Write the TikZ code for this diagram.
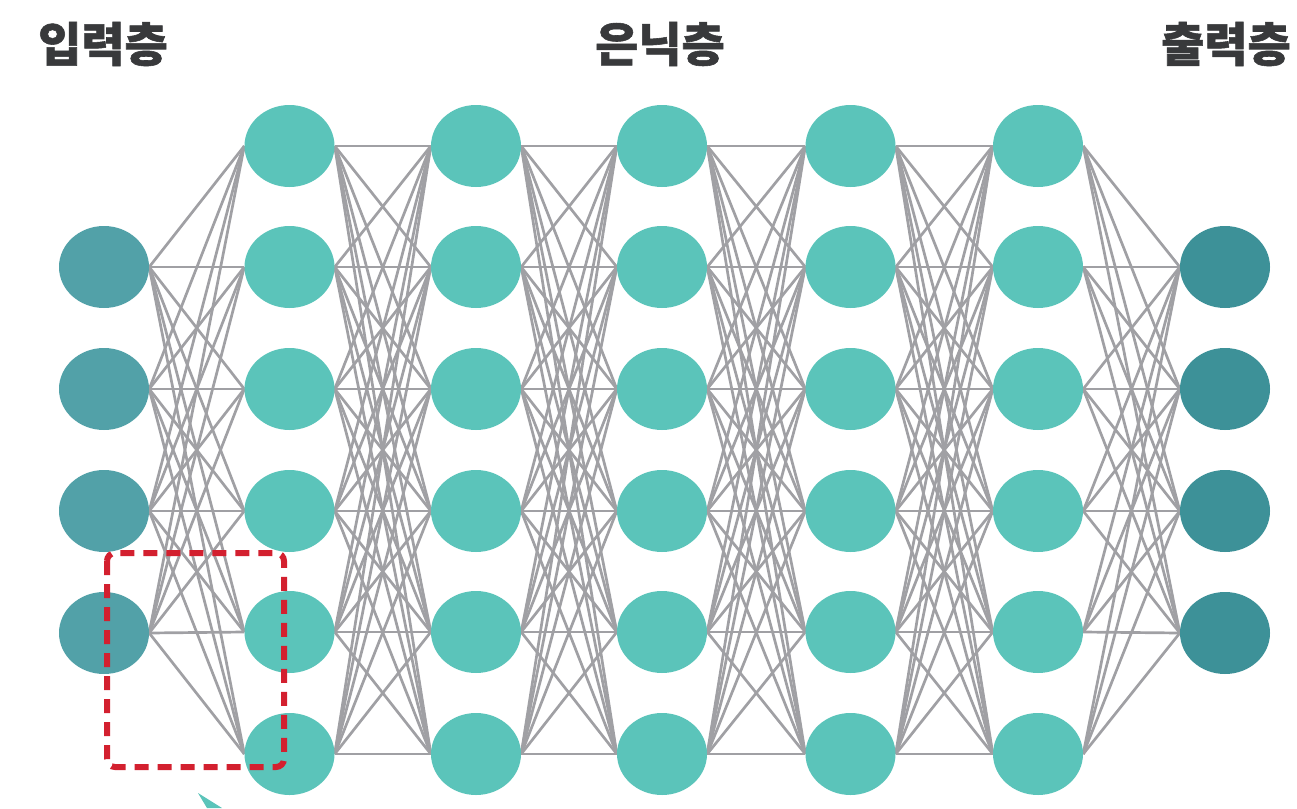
\documentclass[tikz,border=0pt]{standalone}
\usepackage{fontspec}
\newfontfamily\kr{Noto Sans CJK KR}[BoldFeatures={FakeBold=1.2}]
\usetikzlibrary{shapes.geometric,backgrounds}
\definecolor{incol}{HTML}{52A1A8}
\definecolor{hidcol}{HTML}{5BC4BA}
\definecolor{outcol}{HTML}{3D9198}
\definecolor{edgecol}{HTML}{A0A0A4}
\definecolor{dashred}{HTML}{D3202F}
\definecolor{titlecol}{HTML}{38393B}
\begin{document}
\begin{tikzpicture}[x=1pt,y=-1pt,
  neuron/.style={ellipse,minimum width=90pt,minimum height=82pt,inner sep=0pt,draw=none},
  innode/.style={neuron,fill=incol},
  hidnode/.style={neuron,fill=hidcol},
  outnode/.style={neuron,fill=outcol},
  edge/.style={draw=edgecol,line width=2.7pt},
  title/.style={font=\kr\bfseries\fontsize{47}{54}\selectfont,text=titlecol,inner sep=0pt},
  focus/.style={draw=dashred,line width=6pt,dash pattern=on 14pt off 9pt,rounded corners=8pt}]
\useasboundingbox (0,0) rectangle (1297,808);

\node[title] (tin) at (103,44) {입력층};
\node[title] (thid) at (660,44) {은닉층};
\node[title] (tout) at (1226,44) {출력층};

\foreach \y [count=\k] in {267,389,511,633}
  \node[innode] (i\k) at (104,\y) {};
\foreach \x [count=\c] in {289.5,476,662,850.5,1038}
  \foreach \y [count=\r] in {146,267,389,511,632,754}
    \node[hidnode] (h\c-\r) at (\x,\y) {};
\foreach \y [count=\k] in {267,389,511,633}
  \node[outnode] (o\k) at (1225,\y) {};

\begin{pgfonlayer}{background}
\foreach \a in {1,...,4}
  \foreach \b in {1,...,6}
    \draw[edge] (i\a.east) -- (h1-\b.west);
\foreach \c/\n in {1/2,2/3,3/4,4/5}
  \foreach \a in {1,...,6}
    \foreach \b in {1,...,6}
      \draw[edge] (h\c-\a.east) -- (h\n-\b.west);
\foreach \a in {1,...,6}
  \foreach \b in {1,...,4}
    \draw[edge] (h5-\a.east) -- (o\b.west);
\end{pgfonlayer}

\draw[focus] (107,553) rectangle (284,767);
\fill[hidcol] (198,793) -- (222,808) -- (207,808) -- cycle;
\end{tikzpicture}
\end{document}
